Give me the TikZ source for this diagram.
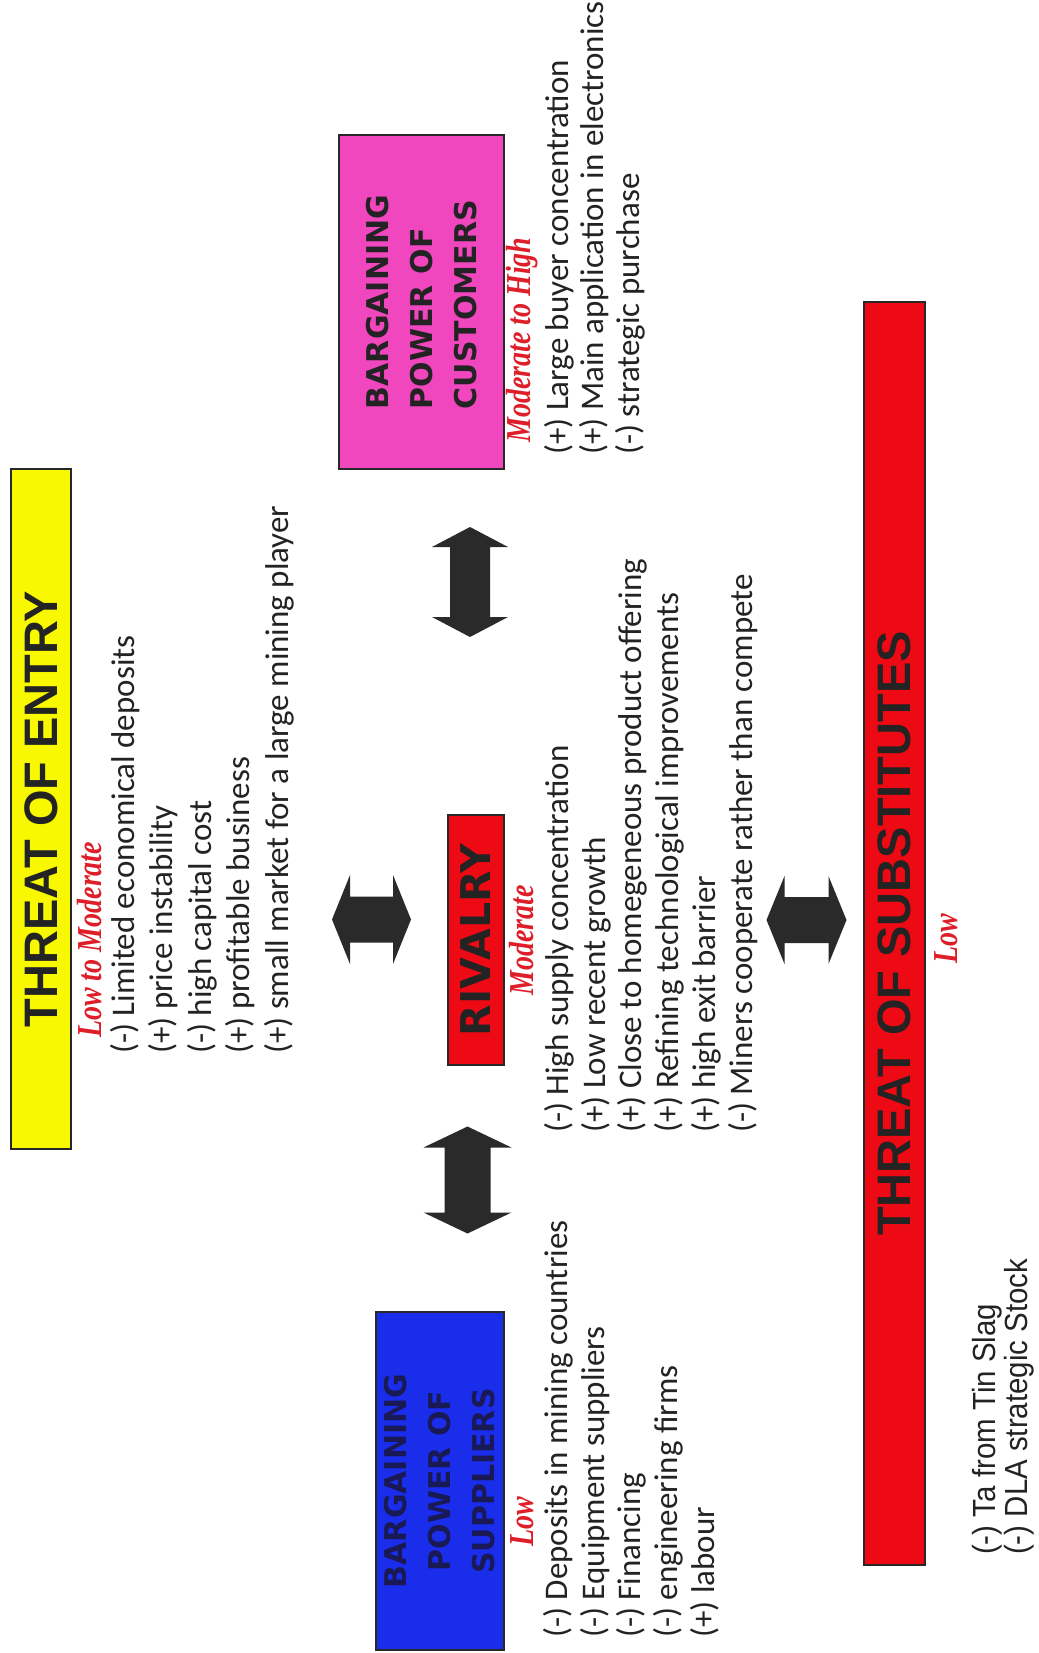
\documentclass[tikz,border=0pt]{standalone}
\usepackage{fontspec}
\setmainfont{Carlito}
\newfontfamily\listfont{Carlito}
\newfontfamily\hdrfont{Liberation Sans}
\newfontfamily\boxfont{DejaVu Sans}
\newfontfamily\redfont[FakeStretch=0.8]{Liberation Serif}
\newfontfamily\subfont[FakeStretch=0.92]{Liberation Sans}
\definecolor{arrowgray}{RGB}{42,42,42}
\definecolor{edgegray}{RGB}{40,40,40}
\definecolor{txtdark}{RGB}{35,35,35}
\definecolor{entryyellow}{RGB}{248,248,0}
\definecolor{custpink}{RGB}{240,70,190}
\definecolor{rivred}{RGB}{238,10,20}
\definecolor{suppblue}{RGB}{25,45,235}
\definecolor{suppnavy}{RGB}{25,25,85}
\definecolor{ratingred}{RGB}{222,30,40}
\newcommand\harrowshape[6]{%
  \fill[arrowgray] (#1-#3,#2) -- (#1-#3+#6,#2-#4) -- (#1-#3+#6,#2-#5) -- (#1+#3-#6,#2-#5) -- (#1+#3-#6,#2-#4) -- (#1+#3,#2) -- (#1+#3-#6,#2+#4) -- (#1+#3-#6,#2+#5) -- (#1-#3+#6,#2+#5) -- (#1-#3+#6,#2+#4) -- cycle;}
\newcommand\varrowshape[6]{%
  \fill[arrowgray] (#1,#2-#3) -- (#1+#4,#2-#3+#6) -- (#1+#5,#2-#3+#6) -- (#1+#5,#2+#3-#6) -- (#1+#4,#2+#3-#6) -- (#1,#2+#3) -- (#1-#4,#2+#3-#6) -- (#1-#5,#2+#3-#6) -- (#1-#5,#2-#3+#6) -- (#1-#4,#2-#3+#6) -- cycle;}
\begin{document}
\begin{tikzpicture}[x=1pt,y=-1pt,
  panel/.style={draw=edgegray, line width=2.5pt, rotate=90, inner sep=0pt},
  hdr/.style={text=txtdark, font=\hdrfont\bfseries\fontsize{47}{50}\selectfont},
  boxtxt/.style={font=\boxfont\bfseries\fontsize{30}{44}\selectfont},
  rating/.style={rotate=90, anchor=west, text=ratingred, inner sep=0pt,
    font=\redfont\bfseries\itshape\fontsize{35}{35}\selectfont},
  items/.style={rotate=90, anchor=north west, align=left, inner sep=0pt, text=txtdark},
  itemfont/.style={font=\listfont\fontsize{33}{#1}\selectfont}]
\useasboundingbox (0,0) rectangle (1038,1653);
\fill[white] (0,0) rectangle (1038,1653);

% panels
\node (entry) [panel, hdr, fill=entryyellow, minimum width=680pt, minimum height=60pt] at (41,809) {THREAT OF ENTRY};
\node (cust) [panel, boxtxt, fill=custpink, text=txtdark, align=left, minimum width=334pt, minimum height=165pt] at (421.5,302) {BARGAINING\\POWER OF\\CUSTOMERS};
\node (riv) [panel, fill=rivred, text=txtdark, minimum width=250pt, minimum height=56pt, font=\boxfont\bfseries\fontsize{41}{44}\selectfont] at (476,940) {RIVALRY};
\node (supp) [panel, boxtxt, fill=suppblue, text=suppnavy, align=center, minimum width=338pt, minimum height=128pt] at (440,1481) {BARGAINING\\POWER OF\\SUPPLIERS};
\node (subs) [panel, hdr, fill=rivred, minimum width=1263pt, minimum height=61pt] at (894.5,933.5) {THREAT OF SUBSTITUTES};

% ratings
\node (rentry) [rating] at (90,1038) {Low to Moderate};
\node (rcust) [rating] at (522,443) {Moderate to High};
\node (rriv) [rating] at (522,996) {Moderate};
\node (rsupp) [rating] at (522,1547) {Low};
\node (rsubs) [rating] at (946,964) {Low};

% factor lists
\node (lentry) [items, itemfont=38.5] at (110,1054) {(-) Limited economical deposits\\(+) price instability\\(-) high capital cost\\(+) profitable business\\(+) small market for a large mining player};
\node (lcust) [items, itemfont=35.5] at (544,455) {(+) Large buyer concentration\\(+) Main application in electronics\\(-) strategic purchase};
\node (lriv) [items, itemfont=36.8] at (544,1133) {(-) High supply concentration\\(+) Low recent growth\\(+) Close to homegeneous product offering\\(+) Refining technological improvements\\(+) high exit barrier\\(-) Miners cooperate rather than compete};
\node (lsupp) [items, itemfont=36.7] at (543,1638) {(-) Deposits in mining countries\\(-) Equipment suppliers\\(-) Financing\\(-) engineering firms\\(+) labour};
\node (lsubs) [items, font=\subfont\fontsize{32}{32.5}\selectfont] at (972,1555) {(-) Ta from Tin Slag\\(-) DLA strategic Stock};

% block double arrows
\harrowshape{371.5}{919.5}{39.5}{44.5}{23}{18}
\harrowshape{806.5}{920}{40}{44}{23}{18}
\varrowshape{470}{582}{55}{38}{20}{20}
\varrowshape{467.5}{1180}{53.5}{44}{23}{21}
\end{tikzpicture}
\end{document}
